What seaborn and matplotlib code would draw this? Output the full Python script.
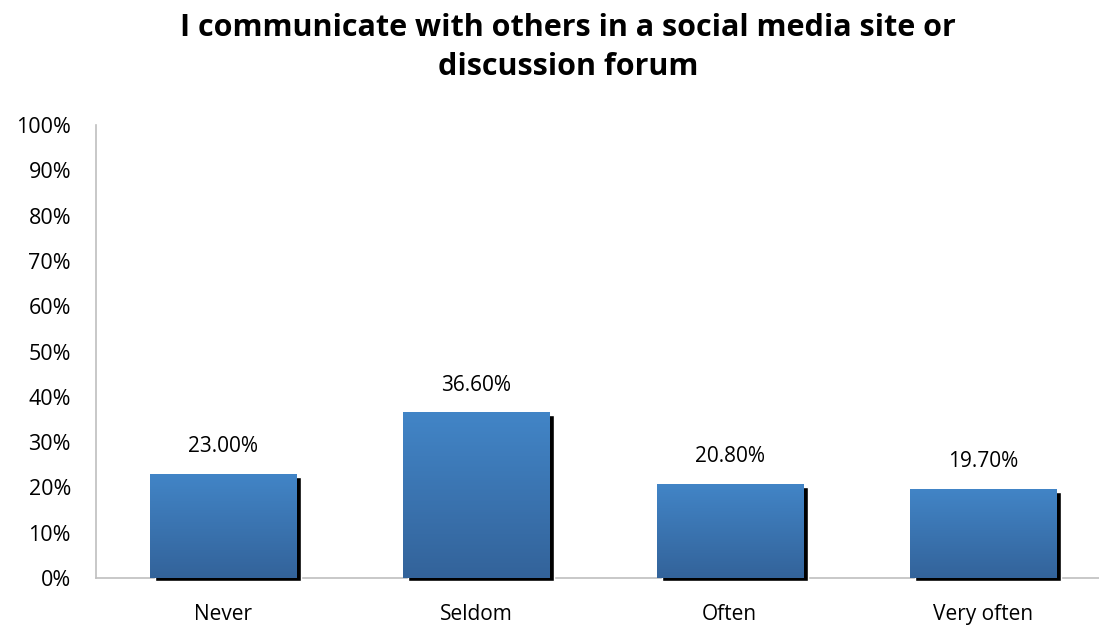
import numpy as np
import pandas as pd
import matplotlib
matplotlib.use("Agg")
import matplotlib.pyplot as plt
import matplotlib.transforms as mtransforms
from matplotlib.colors import LinearSegmentedColormap
import seaborn as sns

categories = ["Never", "Seldom", "Often", "Very often"]
values = [23.0, 36.6, 20.8, 19.7]
labels = ["23.00%", "36.60%", "20.80%", "19.70%"]
yticks = [0, 10, 20, 30, 40, 50, 60, 70, 80, 90, 100]
title = "I communicate with others in a social media site or\ndiscussion forum"

sns.set_theme(style="white")
plt.rcParams['font.family'] = ['Open Sans', 'DejaVu Sans']

W, H = 1099, 628
fig = plt.figure(figsize=(W / 100, H / 100), dpi=100)
left, right, bottom, top = 96, 1110, 50, 503
ax = fig.add_axes([left / W, bottom / H, (right - left) / W, (top - bottom) / H])

df = pd.DataFrame({"cat": categories, "val": values})

# shadow bars
sns.barplot(data=df, x="cat", y="val", color="black", width=0.576, ax=ax,
            saturation=1, zorder=1)
shadow_patches = list(ax.patches)
off = mtransforms.ScaledTranslation(5 / 100, -3 / 100, fig.dpi_scale_trans)
for p in shadow_patches:
    p.set_transform(ax.transData + off)
    p.set_clip_on(False)

# main bars
sns.barplot(data=df, x="cat", y="val", color="#3B78B8", width=0.576, ax=ax,
            saturation=1, zorder=2)
main_patches = [p for p in ax.patches if p not in shadow_patches]

cmap = LinearSegmentedColormap.from_list("g", ["#33639A", "#4285C7"])
grad = np.linspace(0, 1, 256).reshape(-1, 1)
for p in main_patches:
    x0, y0 = p.get_x(), p.get_y()
    w, h = p.get_width(), p.get_height()
    im = ax.imshow(grad, cmap=cmap, aspect="auto", origin="lower",
                   extent=[x0, x0 + w, y0, y0 + h], zorder=3)
    im.set_clip_path(p)
    p.set_edgecolor("none")

for i, (v, lab) in enumerate(zip(values, labels)):
    ax.annotate(lab, (i, v), xytext=(0, 12), textcoords="offset points",
                ha="center", va="bottom", fontsize=15, color="black")

ax.set_xlim(-0.5, 3.5)
ax.set_ylim(0, 100)
ax.set_yticks(yticks)
ax.set_yticklabels([f"{t}%" for t in yticks])
ax.set_xlabel("")
ax.set_ylabel("")
ax.tick_params(axis="y", length=0, pad=18, labelsize=15.5, colors="black")
ax.tick_params(axis="x", length=0, pad=19, labelsize=15, colors="black")
for s in ["top", "right"]:
    ax.spines[s].set_visible(False)
for s in ["left", "bottom"]:
    ax.spines[s].set_color("#BFBFBF")
    ax.spines[s].set_linewidth(1.2)
    ax.spines[s].set_zorder(0.5)

fig.text(568 / W, 1 - 13 / H, title, ha="center", va="top", fontsize=22,
         fontweight="bold", linespacing=1.4, color="black")

fig.savefig("out.png", dpi=100)
